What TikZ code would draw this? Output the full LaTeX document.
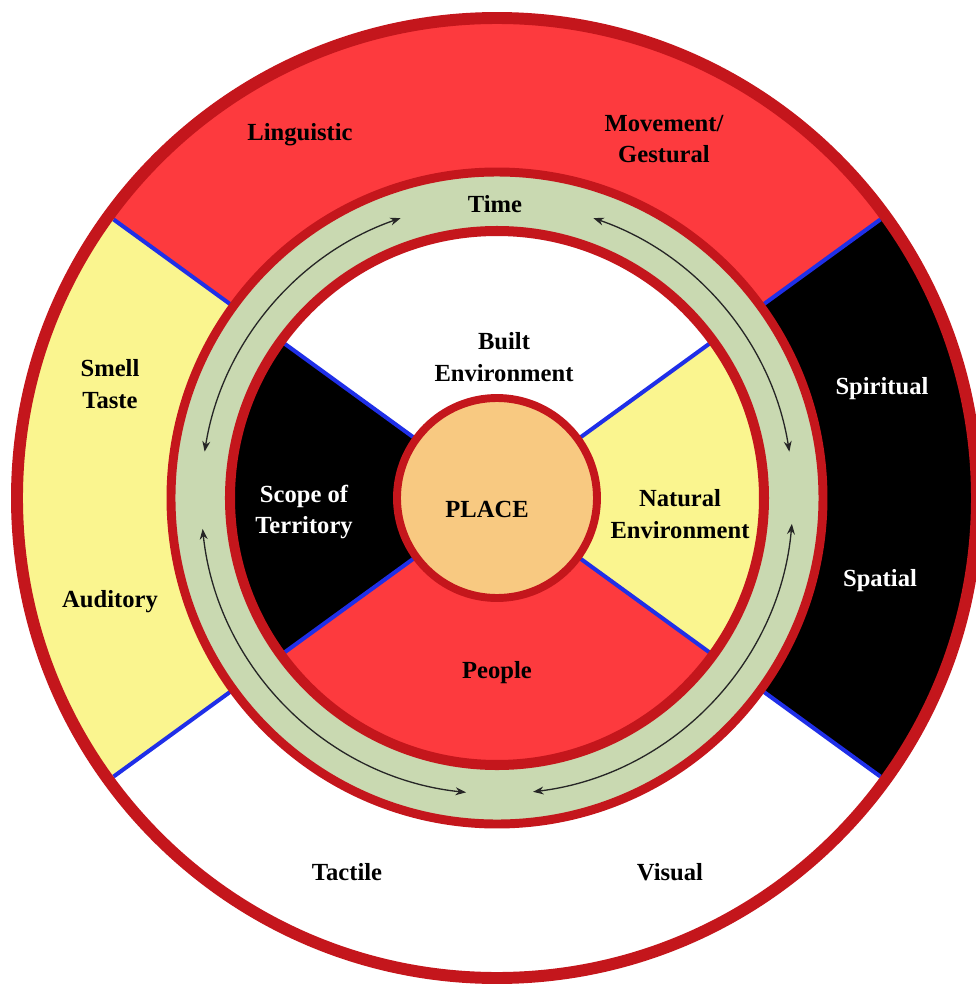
\documentclass[tikz,border=0pt]{standalone}
\usepackage{fontspec}
\setmainfont{Liberation Serif}
\usetikzlibrary{arrows.meta}
\definecolor{ringred}{HTML}{FD3A3E}
\definecolor{rimred}{HTML}{C4161C}
\definecolor{ringyellow}{HTML}{FAF58F}
\definecolor{ringgreen}{HTML}{C9D9B1}
\definecolor{placepeach}{HTML}{F8C981}
\definecolor{lineblue}{HTML}{1F2FE8}
\begin{document}
\begin{tikzpicture}[x=0.02cm,y=0.02cm,font=\bfseries\fontsize{14}{18}\selectfont,
divider/.style={draw=lineblue,line width=2.3pt},
timearrow/.style={{Stealth[length=6pt,width=4.5pt]}-{Stealth[length=6pt,width=4.5pt]},line width=.75pt,draw=black!85},
ringtext/.style={align=center,inner sep=1pt}]
\useasboundingbox (-497,-490) rectangle (479,498);
\fill[white] (-497,-490) rectangle (479,498);
% outer ring
\foreach \a/\b/\c in {36/144/ringred,144/216/ringyellow,216/324/white,-36/36/black}{\fill[\c] (\a:480) arc[start angle=\a,end angle=\b,radius=480] -- (\b:322) arc[start angle=\b,end angle=\a,radius=322] -- cycle;}
\foreach \t in {36,144,216,324}{\draw[divider] (\t:322) -- (\t:474);}
\draw[rimred,line width=6.8pt] (0,0) circle[radius=480];
% time ring and inner sectors
\fill[ringgreen] (0,0) circle[radius=326];
\foreach \a/\b/\c in {36/144/white,144/216/black,216/324/ringred,-36/36/ringyellow}{\fill[\c] (0,0) -- (\a:267) arc[start angle=\a,end angle=\b,radius=267] -- cycle;}
\foreach \t in {36,144,216,324}{\draw[divider] (\t:100) -- (\t:264);}
\draw[rimred,line width=5.1pt] (0,0) circle[radius=326];
\draw[rimred,line width=5.7pt] (0,0) circle[radius=267];
\foreach \a/\b in {9/71,109/171,186/264,277/355}{\draw[timearrow] (\a:296) arc[start angle=\a,end angle=\b,radius=296];}
% centre
\node[circle,fill=placepeach,draw=rimred,line width=4.5pt,minimum size=200*0.02cm,inner sep=0pt] (place) at (0,0) {};
\node (placetext) at (-10,-11) {PLACE};
% labels
\node[ringtext] (linguistic) at (-197,363) {Linguistic};
\node[ringtext] (movement) at (167,359) {Movement/\\Gestural};
\node[ringtext] (time) at (-2,294) {Time};
\node[ringtext] (smell) at (-387,114) {Smell\\Taste};
\node[ringtext] (auditory) at (-387,-104) {Auditory};
\node[ringtext] (built) at (7,141) {Built\\Environment};
\node[ringtext,white] (scope) at (-193,-14) {Scope of\\Territory};
\node[ringtext] (natural) at (183,-16) {Natural\\Environment};
\node[ringtext,white] (spiritual) at (385,109) {Spiritual};
\node[ringtext,white] (spatial) at (383,-83) {Spatial};
\node[ringtext] (people) at (0,-175) {People};
\node[ringtext] (tactile) at (-150,-374) {Tactile};
\node[ringtext] (visual) at (173,-374) {Visual};
\end{tikzpicture}
\end{document}
